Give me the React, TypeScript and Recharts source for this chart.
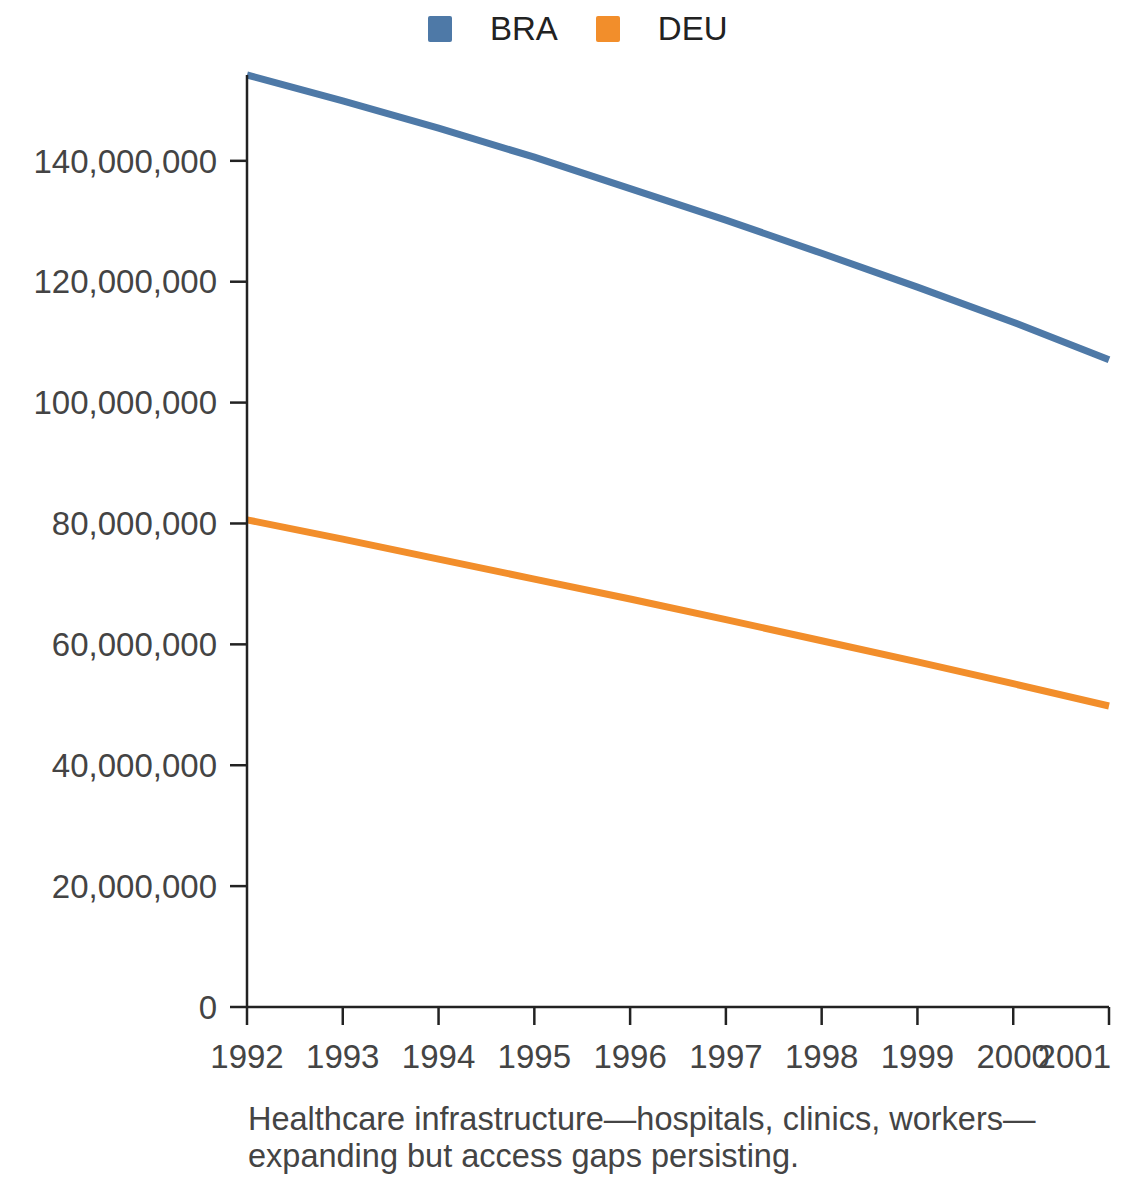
import React from 'react';
import { LineChart, Line, XAxis, YAxis } from 'recharts';

const YEARS = ['1992', '1993', '1994', '1995', '1996', '1997', '1998', '1999', '2000', '2001'];
const BRA = [154.2, 149.9, 145.4, 140.6, 135.4, 130.2, 124.7, 119.1, 113.3, 107.1];
const DEU = [80.6, 77.4, 74.1, 70.8, 67.5, 64.1, 60.6, 57.1, 53.5, 49.8];
const Y_TICKS = [0, 20, 40, 60, 80, 100, 120, 140];

const SERIES = [
  { key: 'BRA', color: '#4e79a7' },
  { key: 'DEU', color: '#f28e2b' },
];

const FONT = '"Liberation Sans", Arial, sans-serif';

const chartData = YEARS.map((year, i) => ({
  year,
  BRA: BRA[i] * 1e6,
  DEU: DEU[i] * 1e6,
}));

const fmt = (v: number) => Math.round(v).toLocaleString('en-US');

// last label gets pushed left so it stays inside the frame
const YearTick = (props: any) => {
  const { x, y, payload, index } = props;
  const last = index === YEARS.length - 1;
  return (
    <text
      x={last ? x + 2 : x}
      y={y}
      dy="0.71em"
      textAnchor={last ? 'end' : 'middle'}
      fontSize={33}
      fill="#444"
      fontFamily={FONT}
    >
      {payload.value}
    </text>
  );
};

export default function App() {
  return (
    <div style={{ position: 'relative', width: 1124, height: 1166, fontFamily: FONT }}>
      <div
        style={{
          position: 'absolute',
          top: 2,
          left: 420,
          display: 'flex',
          alignItems: 'center',
          fontSize: 33,
          color: '#222',
        }}
      >
        {SERIES.map((s, i) => (
          <div key={s.key} style={{ display: 'flex', alignItems: 'center', marginRight: i === 0 ? 38 : 0 }}>
            <span
              style={{
                width: 24,
                height: 26,
                background: s.color,
                borderRadius: 2,
                display: 'inline-block',
                marginRight: 38,
              }}
            />
            <span>{s.key}</span>
          </div>
        ))}
      </div>
      <LineChart
        width={1124}
        height={1069}
        data={chartData}
        margin={{ top: 67, right: 23, left: 0, bottom: 0 }}
      >
        <XAxis
          dataKey="year"
          height={70}
          interval={0}
          tickSize={18}
          tickMargin={20}
          axisLine={{ stroke: '#222', strokeWidth: 2.5 }}
          tickLine={{ stroke: '#222', strokeWidth: 2.5 }}
          tick={<YearTick />}
        />
        <YAxis
          width={239}
          domain={[0, BRA[0] * 1e6]}
          ticks={Y_TICKS.map((t) => t * 1e6)}
          tickFormatter={fmt}
          tickSize={17}
          tickMargin={13}
          axisLine={{ stroke: '#222', strokeWidth: 2.5 }}
          tickLine={{ stroke: '#222', strokeWidth: 2.5 }}
          tick={{ fontSize: 33, fill: '#444', fontFamily: FONT }}
        />
        {SERIES.map((s) => (
          <Line
            key={s.key}
            type="linear"
            dataKey={s.key}
            stroke={s.color}
            strokeWidth={7}
            dot={false}
            activeDot={false}
            isAnimationActive={false}
          />
        ))}
      </LineChart>
      <div
        style={{
          position: 'absolute',
          top: 1093,
          left: 240,
          width: 880,
          fontSize: 32.5,
          lineHeight: '37px',
          color: '#444',
        }}
      >
        Healthcare infrastructure—hospitals, clinics, workers—
        <br />
        expanding but access gaps persisting.
      </div>
    </div>
  );
}
